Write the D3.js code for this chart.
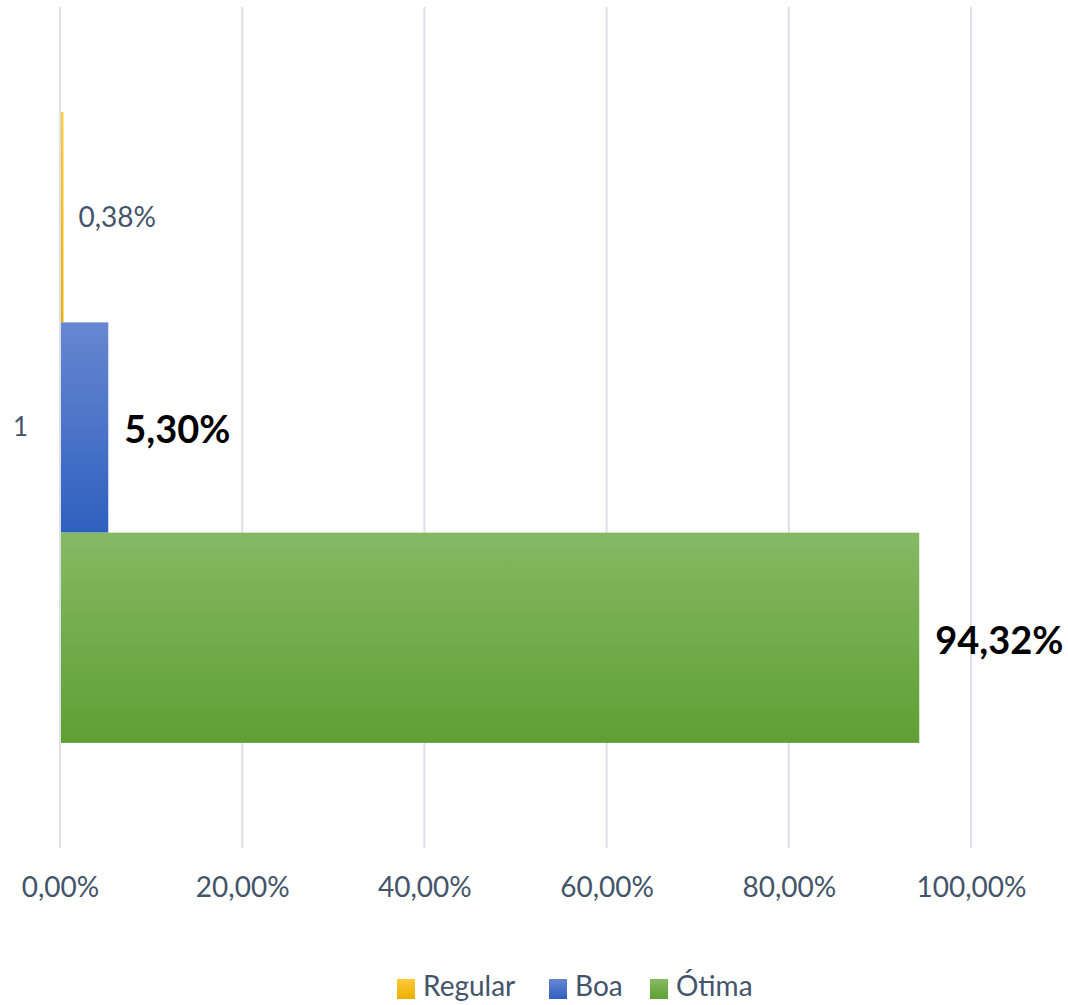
<!DOCTYPE html>
<html>
<head>
<meta charset="utf-8">
<script src="https://cdn.jsdelivr.net/npm/d3@7"></script>
<style>
  body { margin: 0; background: #fff; }
  text { font-family: Lato, "Open Sans", sans-serif; }
</style>
</head>
<body>
<script>
// data
var categories = ["1"];
var seriesNames = ["Regular", "Boa", "Ótima"];
var seriesValues = [0.0038, 0.0530, 0.9432];
var tickValues = [0, 0.2, 0.4, 0.6, 0.8, 1.0];

var colors = {
  "Regular": ["#ffc93a", "#e9b100"],
  "Boa": ["#6787d0", "#2f60c0"],
  "Ótima": ["#86b964", "#5f9f33"]
};

var width = 1068, height = 1005;
var margin = {left: 60, right: 97, top: 7, bottom: 157};
var w = width - margin.left - margin.right;
var h = height - margin.top - margin.bottom;

var svg = d3.select("body").append("svg")
  .attr("width", width).attr("height", height);

// gradients for bars
var defs = svg.append("defs");
seriesNames.forEach(function(s, i){
  var g = defs.append("linearGradient").attr("id", "grad" + i)
    .attr("x1", 0).attr("y1", 0).attr("x2", 0).attr("y2", 1);
  g.append("stop").attr("offset", "0%").attr("stop-color", colors[s][0]);
  g.append("stop").attr("offset", "100%").attr("stop-color", colors[s][1]);
});

var chart = svg.append("g").attr("transform", "translate(" + margin.left + "," + margin.top + ")");

var x = d3.scaleLinear().domain([0, 1]).range([0, w]);
// gap width 50% -> half a bar on each side of the group
var y0 = d3.scaleBand().domain(categories).range([0, h]).paddingInner(0).paddingOuter(1 / 6);
var y1 = d3.scaleBand().domain(seriesNames).range([0, y0.bandwidth()]).padding(0);

// gridlines
chart.append("g").selectAll("line").data(tickValues).enter().append("line")
  .attr("x1", function(d){ return x(d); })
  .attr("x2", function(d){ return x(d); })
  .attr("y1", 0).attr("y2", h)
  .attr("stroke", "#dde0e6").attr("stroke-width", 2);

// x axis labels
var fmt = function(d){ return (d * 100).toFixed(2).replace(".", ",") + "%"; };
var xAxis = d3.axisBottom(x).tickValues(tickValues).tickFormat(fmt).tickSize(0).tickPadding(29);
var xg = chart.append("g").attr("transform", "translate(0," + h + ")").call(xAxis);
xg.select(".domain").remove();
xg.selectAll("text").attr("fill", "#44546a").style("font-size", "28px").style("font-family", "Lato, sans-serif");

// y axis label
var yAxis = d3.axisLeft(y0).tickSize(0).tickPadding(32);
var yg = chart.append("g").call(yAxis);
yg.select(".domain").remove();
yg.selectAll("text").attr("fill", "#44546a").style("font-size", "26px").style("font-family", "Lato, sans-serif");

// bars
var data = seriesNames.map(function(s, i){ return {name: s, value: seriesValues[i], cat: categories[0], idx: i}; });

chart.selectAll(".bar").data(data).enter().append("rect")
  .attr("class", "bar")
  .attr("x", x(0))
  .attr("y", function(d){ return y0(d.cat) + y1(d.name); })
  .attr("width", function(d){ return x(d.value) - x(0); })
  .attr("height", y1.bandwidth())
  .attr("fill", function(d){ return "url(#grad" + d.idx + ")"; });

// axis line at 0
chart.append("line").attr("x1", 0).attr("x2", 0).attr("y1", 0).attr("y2", h)
  .attr("stroke", "#dde0e6").attr("stroke-width", 2);

// value labels
chart.selectAll(".lbl").data(data).enter().append("text")
  .attr("x", function(d){ return x(d.value) + (d.idx === 0 ? 15 : 16); })
  .attr("y", function(d){ return y0(d.cat) + y1(d.name) + y1.bandwidth() / 2 + (d.idx === 0 ? 3 : 6); })
  .attr("dominant-baseline", "middle")
  .attr("fill", function(d){ return d.idx === 0 ? "#44546a" : "#000"; })
  .style("font-size", function(d){ return d.idx === 0 ? "28px" : "38px"; })
  .style("font-weight", function(d){ return d.idx === 0 ? "normal" : "bold"; })
  .text(function(d){ return fmt(d.value); });

// legend
var legendX = [397, 549, 650];
var legend = svg.append("g");
seriesNames.forEach(function(s, i){
  var g = legend.append("g").attr("transform", "translate(" + legendX[i] + ",979)");
  g.append("rect").attr("width", 18).attr("height", 20).attr("fill", "url(#grad" + i + ")");
  g.append("text").attr("x", 26).attr("y", 10).attr("dominant-baseline", "middle")
    .attr("fill", "#44546a").style("font-size", "28px").text(s);
});
</script>
</body>
</html>
